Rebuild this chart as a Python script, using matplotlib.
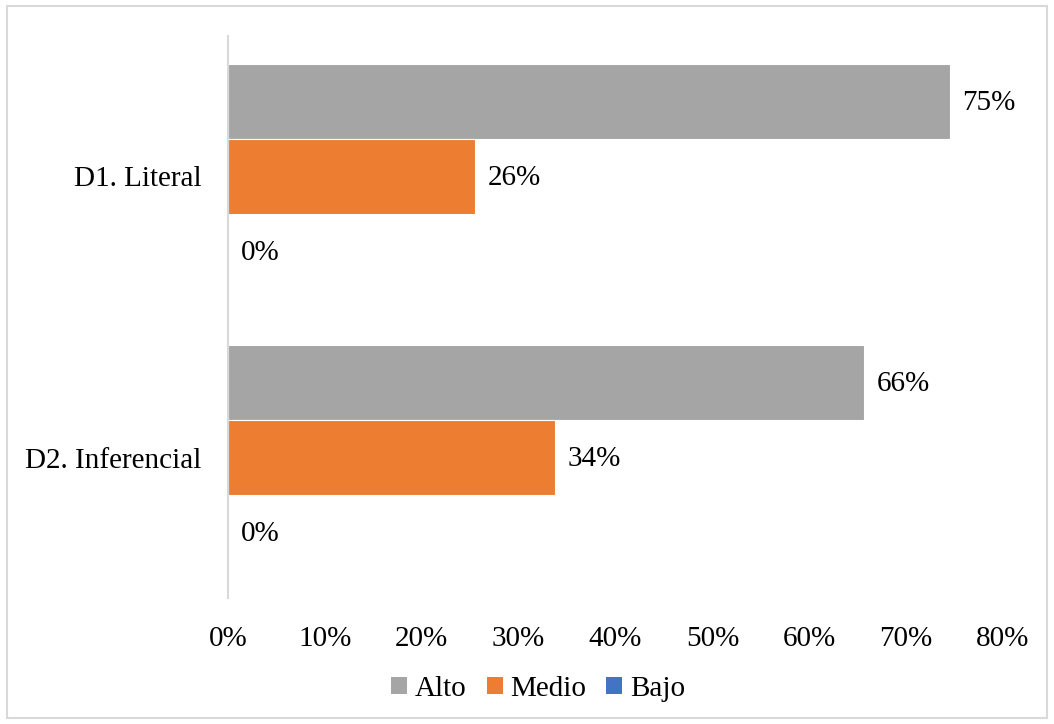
import matplotlib
matplotlib.use("Agg")
import matplotlib.pyplot as plt
from matplotlib.patches import Rectangle, Patch
import numpy as np

categories = ["D1. Literal", "D2. Inferencial"]
series = ["Alto", "Medio", "Bajo"]
alto = [0.745, 0.657]
medio = [0.255, 0.338]
bajo = [0.0, 0.0]
colors = ["#A5A5A5", "#ED7D31", "#4472C4"]
xticks = [0, 0.1, 0.2, 0.3, 0.4, 0.5, 0.6, 0.7, 0.8]

plt.rcParams["font.family"] = ["Liberation Serif", "DejaVu Serif"]
FS = 21

W, H = 1054, 724
fig = plt.figure(figsize=(W / 100, H / 100), dpi=100)
fig.patch.set_facecolor("white")
fig.add_artist(Rectangle((7 / W, 6 / H), (1047 - 7) / W, (718 - 6) / H,
                         transform=fig.transFigure, fill=False,
                         edgecolor="#D9D9D9", linewidth=1.5))

ax = fig.add_axes([228 / W, 1 - 598 / H, (1003 - 228) / W, (598 - 36) / H])

bh = 1 / 3.75
y = np.arange(len(categories))
data = [alto, medio, bajo]
for i, (name, vals, c) in enumerate(zip(series, data, colors)):
    pos = y + (i - 1) * bh
    ax.barh(pos, vals, height=bh, color=c, edgecolor="white",
            linewidth=0.8, label=name)
    for p, v in zip(pos, vals):
        ax.annotate(f"{int(v * 100 + 0.5):d}%", xy=(v, p), xytext=(9, -1),
                    textcoords="offset points", ha="left", va="center",
                    fontsize=FS, color="#000000")

ax.set_ylim(-0.5, len(categories) - 0.5)
ax.invert_yaxis()
ax.set_xlim(0, 0.8)
ax.set_xticks(xticks)
ax.set_xticklabels([f"{int(round(t * 100))}%" for t in xticks], fontsize=FS)
ax.set_yticks(y)
ax.set_yticklabels(categories, fontsize=FS)
ax.tick_params(axis="x", length=0, pad=20)
ax.tick_params(axis="y", length=0, pad=19)
for s in ["top", "right", "bottom"]:
    ax.spines[s].set_visible(False)
ax.spines["left"].set_color("#D9D9D9")
ax.spines["left"].set_linewidth(1.5)

handles = [Patch(facecolor=c, edgecolor="none", label=n) for n, c in zip(series, colors)]
fig.legend(handles=handles, loc="center", bbox_to_anchor=(538 / W, 1 - 689 / H),
           ncol=3, frameon=False, fontsize=FS, handlelength=0.55, handleheight=0.55,
           handletextpad=0.25, columnspacing=0.7)

fig.savefig("out.png", dpi=100)
